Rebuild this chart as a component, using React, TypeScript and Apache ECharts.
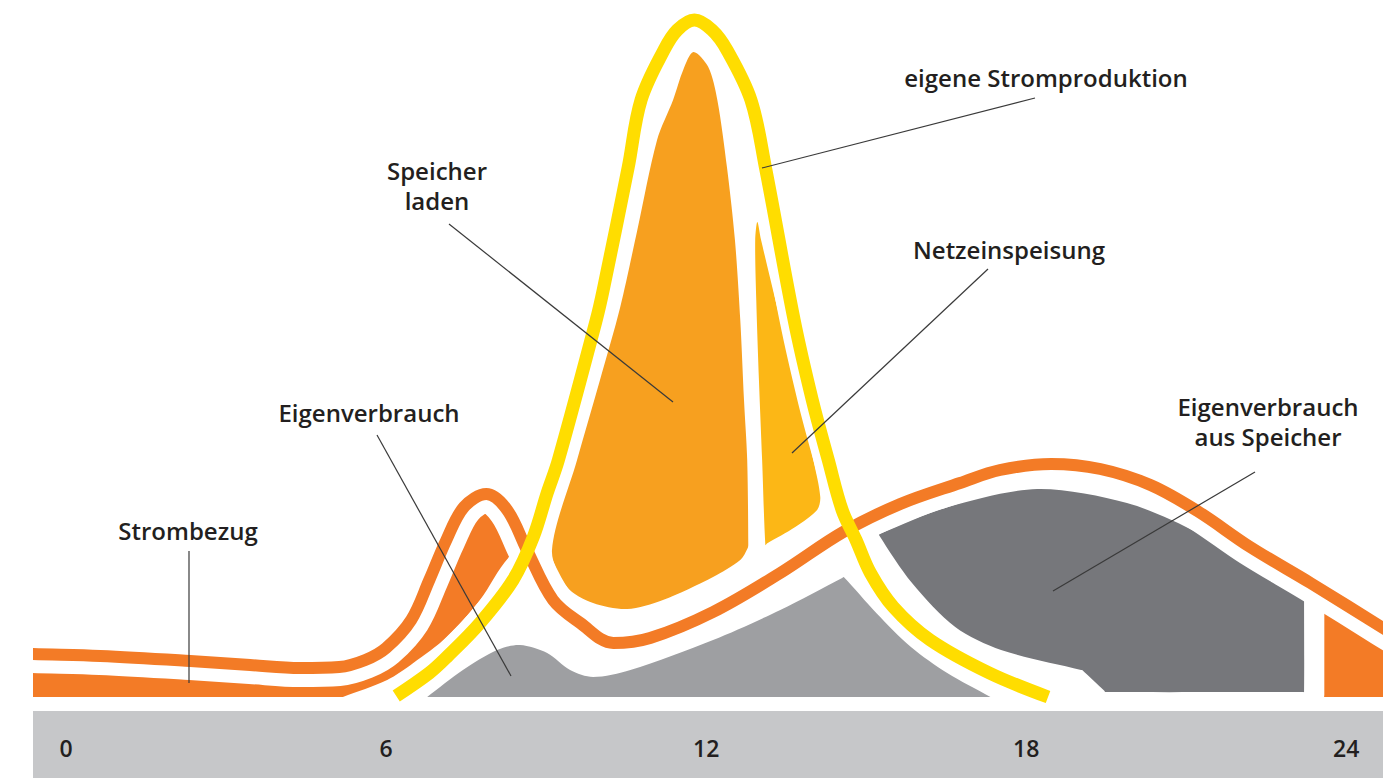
import React, { useEffect, useRef } from "react";
import * as echarts from "echarts";

type Pt = [number, number];

// x = Stunde (0–24), y = Leistung (kW)
const hourTicks = [0, 6, 12, 18, 24];

// eigene Stromproduktion (gelbe Linie)
const eigeneStromproduktion: Pt[] = [
  [6.19, 0.01], [6.81, 0.24], [7.14, 0.4], [7.76, 0.74], [8.38, 1.17], [8.76, 1.6],
  [9.02, 2.04], [9.23, 2.37], [9.94, 3.77], [10.07, 4.07], [10.54, 5.3], [10.78, 5.97],
  [11.21, 6.47], [11.46, 6.67], [11.78, 6.77], [12.11, 6.67], [12.39, 6.47], [12.84, 5.97],
  [13.11, 5.3], [13.65, 3.77], [13.99, 2.97], [14.29, 2.37], [14.55, 1.87], [14.81, 1.57],
  [15.08, 1.24], [15.51, 0.9], [16.2, 0.57], [17.31, 0.24], [18.41, 0.0],
];

// Verbrauch (orange Linie)
const verbrauch: Pt[] = [
  [-1.0, 0.44], [-0.62, 0.43], [0.64, 0.41], [2.33, 0.36], [3.45, 0.32], [4.39, 0.29],
  [5.12, 0.3], [5.61, 0.37], [6.0, 0.49], [6.47, 0.77], [6.81, 1.17], [7.13, 1.57],
  [7.46, 1.9], [7.88, 2.03], [8.27, 1.87], [8.64, 1.47], [9.13, 0.97], [9.64, 0.74],
  [10.26, 0.54], [10.95, 0.59], [12.13, 0.85], [13.39, 1.24], [14.57, 1.65], [15.64, 1.93],
  [16.76, 2.14], [17.51, 2.27], [18.47, 2.33], [19.39, 2.28], [20.33, 2.12], [21.21, 1.86],
  [22.2, 1.5], [23.33, 1.14], [24.69, 0.69], [25.0, 0.59],
];

// Strombezug morgens (orange Fläche)
const strombezugMorgen: Pt[] = [
  [-1.0, 0.0], [-1.0, 0.44], [-0.62, 0.43], [0.64, 0.41], [2.33, 0.36], [3.45, 0.32],
  [4.39, 0.29], [5.12, 0.3], [5.61, 0.37], [6.0, 0.49], [6.47, 0.77], [6.81, 1.17],
  [7.13, 1.57], [7.46, 1.9], [7.88, 2.03], [8.27, 1.87], [8.64, 1.47], [8.29, 1.39],
  [7.76, 0.97], [7.14, 0.6], [6.51, 0.34], [6.02, 0.17], [5.19, 0.0], [5.18, 0.0],
];

// Strombezug abends (orange Fläche)
const strombezugAbend: Pt[] = [
  [23.59, 0.0], [23.59, 0.02], [23.59, 0.88], [23.59, 1.06], [24.2, 0.86], [25.0, 0.59],
  [25.0, 0.0],
];

// Eigenverbrauch (hellgraue Fläche)
const eigenverbrauch: Pt[] = [
  [6.77, 0.0], [7.44, 0.27], [8.08, 0.47], [8.51, 0.52], [9.02, 0.44], [9.45, 0.27],
  [9.88, 0.2], [10.58, 0.27], [12.13, 0.57], [13.39, 0.87], [14.55, 1.19], [14.58, 1.2],
  [15.19, 0.84], [15.84, 0.5], [16.52, 0.24], [17.33, 0.0], [17.32, 0.0], [6.78, 0.0],
];

// Eigenverbrauch aus Speicher (dunkelgraue Fläche)
const eigenverbrauchSpeicher: Pt[] = [
  [15.24, 1.62], [15.27, 1.635], [16.54, 1.9], [18.21, 2.08], [19.89, 1.94], [21.23, 1.64],
  [22.29, 1.3], [23.21, 0.99], [23.21, 0.97], [23.21, 0.05], [23.19, 0.05], [19.48, 0.05],
  [19.47, 0.06], [19.05, 0.27], [19.03, 0.27], [17.53, 0.47], [16.67, 0.7], [15.86, 1.14],
];

// Speicher laden
const speicherLaden: Pt[] = [
  [11.76, 6.45], [12.04, 6.3], [12.21, 5.97], [12.39, 5.3], [12.54, 4.57], [12.64, 3.77],
  [12.71, 2.97], [12.77, 2.37], [12.79, 1.53], [12.78, 1.49], [12.64, 1.37], [12.13, 1.2],
  [11.19, 0.97], [10.52, 0.88], [9.88, 0.94], [9.39, 1.1], [9.11, 1.47], [9.58, 2.37],
  [10.01, 3.17], [10.39, 3.9], [10.71, 4.67], [11.08, 5.57], [11.38, 5.97], [11.57, 6.27],
];

// Netzeinspeisung
const netzeinspeisung: Pt[] = [
  [12.96, 4.75], [13.03, 4.57], [13.39, 3.77], [13.76, 2.97], [14.01, 2.37], [14.14, 2.0],
  [14.08, 1.87], [13.67, 1.7], [13.14, 1.535], [13.11, 1.52], [13.05, 2.37], [12.99, 3.17],
  [12.94, 3.97], [12.92, 4.57],
];

const ORANGE = "#F37B26";
const YELLOW = "#FFDD00";
const SPEICHER = "#F7A01F";
const NETZ = "#FCB716";
const GRAU_HELL = "#9E9FA2";
const GRAU_DUNKEL = "#76777B";
const BAND = "#C6C7C9";
const TEXT = "#231F20";
const FONT = '"Open Sans", "DejaVu Sans", sans-serif';

function areaSeries(name: string, pts: Pt[], color: string) {
  return {
    type: "custom",
    name,
    silent: true,
    clip: true,
    data: [pts[0]],
    renderItem: (_params: any, api: any) => ({
      type: "polygon",
      shape: { points: pts.map((p) => api.coord(p)), smooth: 0.3 },
      style: { fill: color },
    }),
  };
}

function lineSeries(name: string, pts: Pt[], color: string, width: number) {
  return {
    type: "line",
    name,
    data: pts,
    smooth: 0.35,
    showSymbol: false,
    symbol: "none",
    silent: true,
    clip: true,
    lineStyle: { color, width, cap: "butt", join: "round" },
  };
}

function label(text: string, x: number, y: number) {
  return {
    type: "text",
    z: 30,
    style: {
      text,
      x,
      y,
      fill: TEXT,
      fontFamily: FONT,
      fontSize: 24,
      fontWeight: 600,
      align: "center",
      verticalAlign: "middle",
    },
  };
}

function leader(x1: number, y1: number, x2: number, y2: number) {
  return {
    type: "line",
    z: 30,
    shape: { x1, y1, x2, y2 },
    style: { stroke: "#3A3A3A", lineWidth: 1.2 },
  };
}

export default function App() {
  const ref = useRef<HTMLDivElement>(null);

  useEffect(() => {
    if (!ref.current) return;
    const chart = echarts.init(ref.current, undefined, { renderer: "svg" });
    chart.setOption({
      animation: false,
      backgroundColor: "#FFFFFF",
      grid: {
        left: 33,
        right: 13,
        top: 17,
        bottom: 81,
        containLabel: false,
        outerBoundsMode: "none",
      },
      xAxis: {
        type: "value",
        min: -0.62,
        max: 24.69,
        z: 5,
        axisLine: { show: false },
        axisTick: { show: false },
        splitLine: { show: false },
        axisLabel: {
          customValues: hourTicks,
          margin: 39,
          color: TEXT,
          fontFamily: FONT,
          fontSize: 23,
          fontWeight: 600,
        },
      },
      yAxis: {
        type: "value",
        min: 0,
        max: 6.8,
        show: false,
        splitLine: { show: false },
      },
      graphic: [
        { type: "rect", z: -1, shape: { x: 33, y: 711, width: 1350, height: 67 }, style: { fill: BAND } },
        { type: "rect", z: 20, shape: { x: 0, y: 0, width: 33, height: 711 }, style: { fill: "#FFFFFF" } },
        { type: "rect", z: 20, shape: { x: 1383, y: 0, width: 13, height: 711 }, style: { fill: "#FFFFFF" } },
        label("Strombezug", 188, 530),
        leader(189, 551, 189, 683),
        label("Eigenverbrauch", 369, 412),
        leader(377, 435, 511, 676),
        label("Speicher", 437, 170),
        label("laden", 437, 200),
        leader(449, 224, 673, 402),
        label("eigene Stromproduktion", 1046, 77),
        leader(1035, 98, 762, 168),
        label("Netzeinspeisung", 1009, 249),
        leader(988, 269, 792, 453),
        label("Eigenverbrauch", 1268, 406),
        label("aus Speicher", 1268, 436),
        leader(1255, 472, 1053, 591),
      ],
      series: [
        areaSeries("Strombezug morgens", strombezugMorgen, ORANGE),
        areaSeries("Strombezug abends", strombezugAbend, ORANGE),
        areaSeries("Eigenverbrauch", eigenverbrauch, GRAU_HELL),
        areaSeries("Eigenverbrauch aus Speicher", eigenverbrauchSpeicher, GRAU_DUNKEL),
        areaSeries("Speicher laden", speicherLaden, SPEICHER),
        areaSeries("Netzeinspeisung", netzeinspeisung, NETZ),
        lineSeries("Verbrauch Abstand", verbrauch, "#FFFFFF", 38),
        lineSeries("Produktion Abstand", eigeneStromproduktion, "#FFFFFF", 29),
        lineSeries("Verbrauch", verbrauch, ORANGE, 12),
        lineSeries("eigene Stromproduktion", eigeneStromproduktion, YELLOW, 13),
      ],
    });
    return () => chart.dispose();
  }, []);

  return (
    <div
      ref={ref}
      style={{ position: "absolute", left: 0, top: 0, width: 1396, height: 778 }}
    />
  );
}
